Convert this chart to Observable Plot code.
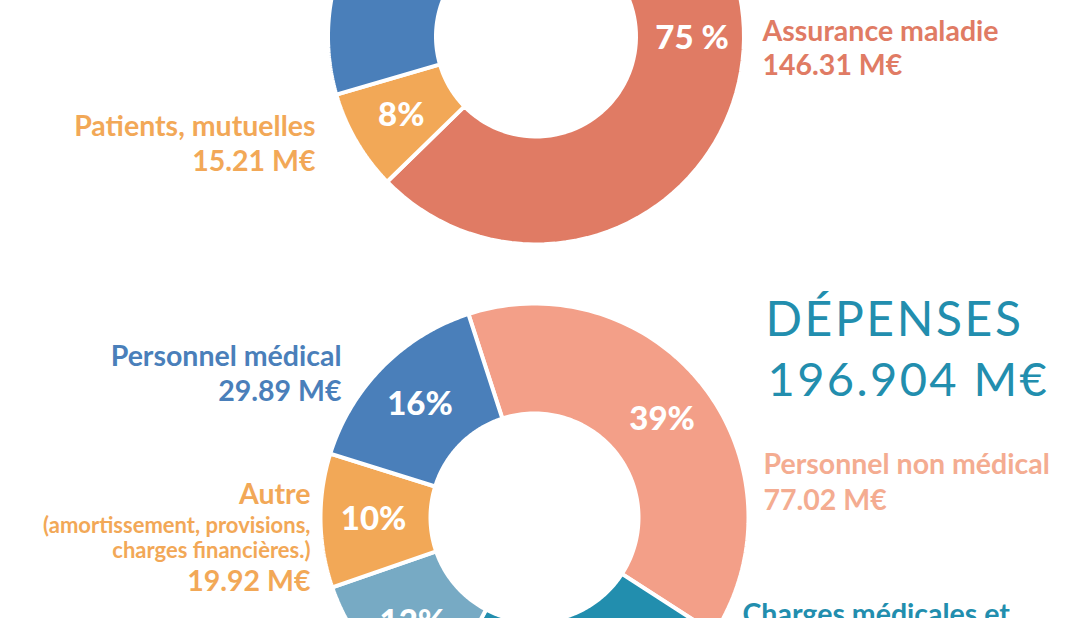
<!DOCTYPE html>
<html>
<head>
<meta charset="utf-8">
<script src="https://cdn.jsdelivr.net/npm/d3@7"></script>
<script src="https://cdn.jsdelivr.net/npm/@observablehq/plot@0.6"></script>
<style>
  html, body { margin: 0; padding: 0; background: #fff; overflow: hidden; }
  #chart svg { display: block; }
</style>
</head>
<body>
<div id="chart"></div>
<script>
// ---------- DATA ----------
// Recettes (top donut, partly cropped)
const recettesCategories = ["Assurance maladie", "Patients, mutuelles", "Autres produits"];
const recettesValues = [146.31, 15.21, 33.56];
const recettesPct = ["75 %", "8%", ""];

// Dépenses (bottom donut, partly cropped)
const depensesCategories = ["Personnel non médical", "Charges médicales et pharmaceutiques", "Charges hôtelières", "Autre", "Personnel médical"];
const depensesValues = [77.02, 46.47, 23.60, 19.92, 29.89];
const depensesPct = ["39%", "24%", "12%", "10%", "16%"];

const depensesTitle = "DÉPENSES";
const depensesTotal = "196.904 M€";

// Outside label texts
const labelAssurance = ["Assurance maladie", "146.31 M€"];
const labelPatients = ["Patients, mutuelles", "15.21 M€"];
const labelPersMed = ["Personnel médical", "29.89 M€"];
const labelAutre = ["Autre", "(amortissement, provisions,", "charges financières.)", "19.92 M€"];
const labelPersNonMed = ["Personnel non médical", "77.02 M€"];
const labelCharges = ["Charges médicales et"];

// ---------- STYLE / LAYOUT ----------
const W = 1082, H = 618;
const C = {
  red: "#E07B64", orange: "#F2A857", blue: "#4A7FBA",
  pink: "#F39F88", pinkText: "#F4AC91", teal: "#228EAE", lightBlue: "#77AAC4"
};
const recettesColors = [C.red, C.orange, C.blue];
const depensesColors = [C.pink, C.teal, C.lightBlue, C.orange, C.blue];

const topDonut = {cx: 535.5, cy: 36, r0: 100, r1: 208, start: -44.3};
const botDonut = {cx: 534, cy: 517, r0: 104, r1: 214, start: -18};

const deg = Math.PI / 180;

function slices(values, donut, colors, pcts, cats) {
  const pie = d3.pie().sort(null).value(d => d)
    .startAngle(donut.start * deg).endAngle(donut.start * deg + 2 * Math.PI);
  return pie(values).map((a, i) => {
    const pts = [];
    const n = 90;
    for (let k = 0; k <= n; k++) {
      const t = a.startAngle + (a.endAngle - a.startAngle) * k / n;
      pts.push({x: donut.cx + donut.r1 * Math.sin(t), y: donut.cy - donut.r1 * Math.cos(t)});
    }
    for (let k = n; k >= 0; k--) {
      const t = a.startAngle + (a.endAngle - a.startAngle) * k / n;
      pts.push({x: donut.cx + donut.r0 * Math.sin(t), y: donut.cy - donut.r0 * Math.cos(t)});
    }
    pts.push(pts[0]);
    const mid = (a.startAngle + a.endAngle) / 2;
    const rm = (donut.r0 + donut.r1) / 2 + 2;
    return {
      key: cats[i], color: colors[i], pts,
      label: {x: donut.cx + rm * Math.sin(mid), y: donut.cy - rm * Math.cos(mid), text: pcts[i]}
    };
  });
}

const topSlices = slices(recettesValues, topDonut, recettesColors, recettesPct, recettesCategories);
const botSlices = slices(depensesValues, botDonut, depensesColors, depensesPct, depensesCategories);
const allSlices = [...topSlices, ...botSlices];

// outside labels layout
const big = 28.5, small = 22;
const outside = [
  {t: labelAssurance[0], x: 762, y: 40, a: "start", s: big, c: C.red},
  {t: labelAssurance[1], x: 762, y: 74, a: "start", s: big, c: C.red},
  {t: labelPatients[0], x: 315, y: 135, a: "end", s: big, c: C.orange},
  {t: labelPatients[1], x: 315, y: 170, a: "end", s: big, c: C.orange},
  {t: labelPersMed[0], x: 341, y: 365, a: "end", s: big, c: C.blue},
  {t: labelPersMed[1], x: 341, y: 400, a: "end", s: big, c: C.blue},
  {t: labelAutre[0], x: 310, y: 503, a: "end", s: big, c: C.orange},
  {t: labelAutre[1], x: 310, y: 532, a: "end", s: small, c: C.orange},
  {t: labelAutre[2], x: 310, y: 557, a: "end", s: small, c: C.orange},
  {t: labelAutre[3], x: 310, y: 590, a: "end", s: big, c: C.orange},
  {t: labelPersNonMed[0], x: 763, y: 473, a: "start", s: big, c: C.pinkText},
  {t: labelPersNonMed[1], x: 763, y: 509, a: "start", s: big, c: C.pinkText},
  {t: labelCharges[0], x: 742, y: 623, a: "start", s: big, c: C.teal}
];
const titles = [
  {t: depensesTitle, x: 765, y: 335, s: 48, ls: 2.6},
  {t: depensesTotal, x: 767, y: 395, s: 47, ls: 2.4}
];

const font = "'Gill Sans', 'Gill Sans MT', Lato, 'Open Sans', sans-serif";

const marks = [];
for (const s of allSlices) {
  marks.push(Plot.line(s.pts, {x: "x", y: "y", fill: s.color, stroke: "white", strokeWidth: 4, strokeLinejoin: "miter"}));
}
marks.push(Plot.text(allSlices.map(s => s.label).filter(l => l.text && l.y < H + 12), {
  x: "x", y: "y", text: "text", fill: "white", fontSize: 33, fontWeight: 900,
  fontFamily: font, textAnchor: "middle", lineAnchor: "middle"
}));
for (const o of outside) {
  marks.push(Plot.text([o], {x: "x", y: "y", text: "t", fill: o.c, fontSize: o.s, fontWeight: 700,
    fontFamily: font, textAnchor: o.a, lineAnchor: "bottom"}));
}
for (const o of titles) {
  marks.push(Plot.text([o], {x: "x", y: "y", text: "t", fill: C.teal, fontSize: o.s, fontWeight: 400,
    fontFamily: font, textAnchor: "start", lineAnchor: "bottom"}));
}

const plot = Plot.plot({
  width: W, height: H,
  margin: 0,
  x: {type: "linear", domain: [0, W], range: [0, W], axis: null},
  y: {type: "linear", domain: [0, H], range: [0, H], axis: null},
  style: {background: "white", overflow: "hidden"},
  marks
});
for (const o of titles) {
  d3.select(plot).selectAll("text")
    .filter(function() { return this.textContent === o.t; })
    .attr("letter-spacing", o.ls);
}
document.getElementById("chart").appendChild(plot);
</script>
</body>
</html>
